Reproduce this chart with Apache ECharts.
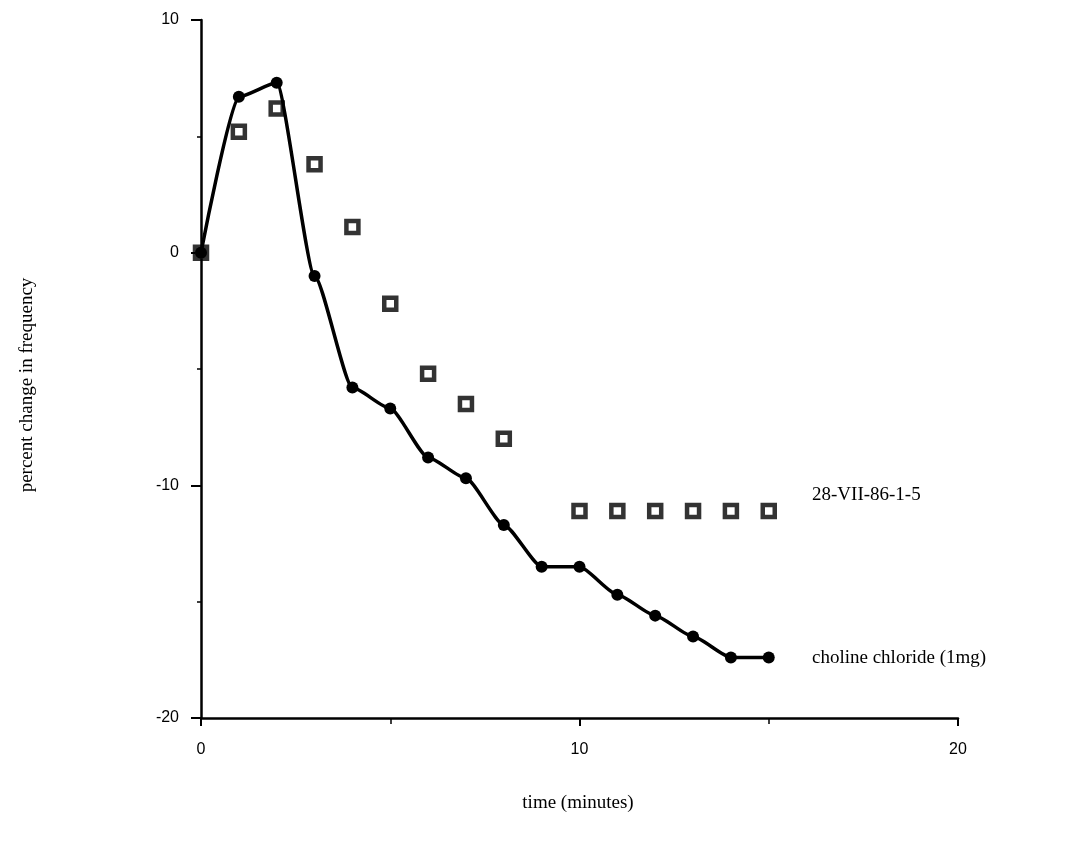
<!DOCTYPE html>
<html>
<head>
<meta charset="utf-8">
<script src="https://cdn.jsdelivr.net/npm/echarts@6/dist/echarts.min.js"></script>
<style>
  html, body { margin: 0; padding: 0; background: #fff; }
  #chart { width: 1084px; height: 858px; }
</style>
</head>
<body>
<div id="chart"></div>
<script>
// time in minutes
const times = [0, 1, 2, 3, 4, 5, 6, 7, 8, 9, 10, 11, 12, 13, 14, 15];
// choline chloride (1mg) - filled markers, connected
const cholineValues = [0, 6.7, 7.3, -1.0, -5.8, -6.7, -8.8, -9.7, -11.7, -13.5, -13.5, -14.7, -15.6, -16.5, -17.4, -17.4];
// 28-VII-86-1-5 - open squares, no line
const controlTimes = [0, 1, 2, 3, 4, 5, 6, 7, 8, 10, 11, 12, 13, 14, 15];
const controlValues = [0, 5.2, 6.2, 3.8, 1.1, -2.2, -5.2, -6.5, -8.0, -11.1, -11.1, -11.1, -11.1, -11.1, -11.1];
const xTicks = [0, 10, 20];
const yTicks = [-20, -10, 0, 10];

const serif = '"Liberation Serif", "DejaVu Serif", serif';
const sans = '"Liberation Sans", Arial, sans-serif';

const chart = echarts.init(document.getElementById('chart'));

chart.setOption({
  animation: false,
  backgroundColor: '#fff',
  grid: { left: 201, right: 126, top: 20, bottom: 140 },
  xAxis: {
    type: 'value',
    min: 0, max: 20, interval: 10,
    splitLine: { show: false },
    axisLine: { onZero: false, lineStyle: { color: '#000', width: 2.5 } },
    axisTick: { show: true, inside: false, length: 8, lineStyle: { color: '#000', width: 2 } },
    minorTick: { show: true, splitNumber: 2, length: 6, lineStyle: { color: '#000', width: 1.5 } },
    axisLabel: { color: '#000', fontFamily: sans, fontSize: 16, margin: 24,
      formatter: v => xTicks.includes(v) ? String(v) : '' }
  },
  yAxis: {
    type: 'value',
    min: -20, max: 10, interval: 10,
    splitLine: { show: false },
    axisLine: { onZero: false, lineStyle: { color: '#000', width: 2.5 } },
    axisTick: { show: true, inside: false, length: 10, lineStyle: { color: '#000', width: 2 } },
    minorTick: { show: true, splitNumber: 2, length: 4, lineStyle: { color: '#000', width: 1.5 } },
    axisLabel: { color: '#000', fontFamily: sans, fontSize: 16, margin: 22,
      formatter: v => yTicks.includes(v) ? String(v) : '' }
  },
  series: [
    {
      name: 'choline chloride (1mg)',
      type: 'line',
      data: times.map((t, i) => [t, cholineValues[i]]),
      smooth: 0.2,
      smoothMonotone: 'x',
      symbol: 'circle',
      symbolSize: 12,
      lineStyle: { color: '#000', width: 3.5 },
      itemStyle: { color: '#000' },
      z: 3
    },
    {
      name: '28-VII-86-1-5',
      type: 'scatter',
      data: controlTimes.map((t, i) => [t, controlValues[i]]),
      symbol: 'rect',
      symbolSize: 12,
      itemStyle: { color: '#fff', borderColor: '#000', borderWidth: 4.5 },
      z: 2
    }
  ],
  graphic: [
    { type: 'text', left: 812, top: 486,
      style: { text: '28-VII-86-1-5', font: '19px ' + serif, fill: '#000' } },
    { type: 'text', left: 812, top: 649,
      style: { text: 'choline chloride (1mg)', font: '19px ' + serif, fill: '#000' } },
    { type: 'text', x: 578, y: 803,
      style: { text: 'time (minutes)', font: '19px ' + serif, fill: '#000', align: 'center', verticalAlign: 'middle' } },
    { type: 'text', x: 27, y: 385, rotation: Math.PI / 2,
      style: { text: 'percent change in frequency', font: '19px ' + serif, fill: '#000', align: 'center', verticalAlign: 'middle' } }
  ]
});
</script>
</body>
</html>
